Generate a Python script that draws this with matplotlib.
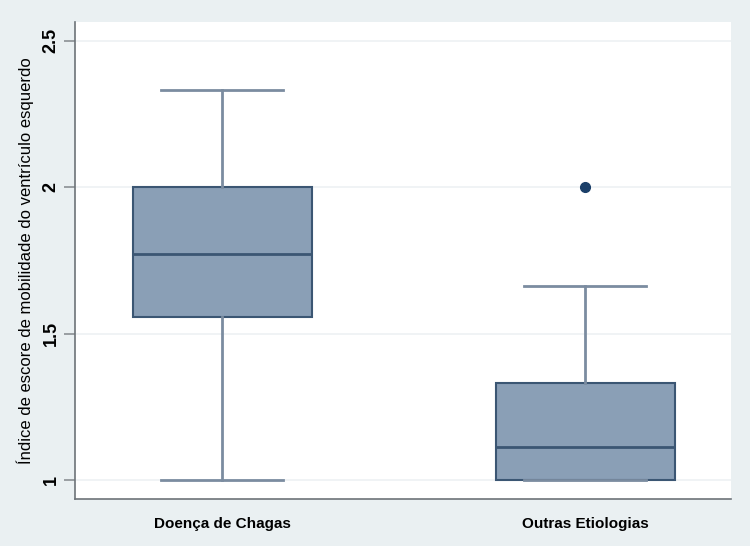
import matplotlib
matplotlib.use("Agg")
import matplotlib.pyplot as plt

# group labels and box statistics
groups = ["Doença de Chagas", "Outras Etiologias"]
whislo = [1.0, 1.0]
q1 = [1.556, 1.0]
med = [1.771, 1.113]
q3 = [2.0, 1.331]
whishi = [2.333, 1.664]
fliers = [[], [2.0]]

yticks = [1, 1.5, 2, 2.5]
ylabel = "Índice de escore de mobilidade do ventrículo esquerdo"

plt.rcParams['font.family'] = ['Liberation Sans', 'DejaVu Sans']

bg = "#eaf0f2"
fill = "#8a9fb6"
edge = "#3b5673"
whisk = "#7b8ca0"

stats = []
for i in range(len(groups)):
    stats.append(dict(label=groups[i], whislo=whislo[i], q1=q1[i], med=med[i],
                      q3=q3[i], whishi=whishi[i], fliers=fliers[i]))

fig = plt.figure(figsize=(7.5, 5.46), dpi=100, facecolor=bg)
ax = fig.add_axes([0.1, 0.086, 0.875, 0.874])
ax.set_facecolor("white")

ax.bxp(stats, positions=[1, 2], widths=0.493, capwidths=0.336, patch_artist=True,
       boxprops=dict(facecolor=fill, edgecolor=edge, linewidth=1.5),
       medianprops=dict(color=edge, linewidth=2),
       whiskerprops=dict(color=whisk, linewidth=2),
       capprops=dict(color=whisk, linewidth=2),
       flierprops=dict(marker="o", markerfacecolor="#1b3f69", markeredgecolor="#1b3f69", markersize=7))

ax.set_xlim(0.595, 2.402)
ax.set_ylim(0.935, 2.565)
ax.set_yticks(yticks)
ax.set_yticklabels(["1", "1.5", "2", "2.5"], rotation=90, va="center", fontsize=13, fontweight="bold")
ax.yaxis.grid(True, color="#edf1f3", linewidth=1.2)
ax.set_axisbelow(True)

ax.tick_params(axis="y", length=8, width=1.2, color="#8a8f94", pad=3)
ax.tick_params(axis="x", length=0, pad=13, labelsize=11)
for t in ax.get_xticklabels():
    t.set_fontweight("bold")

ax.spines["top"].set_visible(False)
ax.spines["right"].set_visible(False)
for s in ["left", "bottom"]:
    ax.spines[s].set_color("#6d7378")
    ax.spines[s].set_linewidth(1.2)

ax.set_ylabel(ylabel, fontsize=12, labelpad=6)

fig.savefig("out.png", dpi=100, facecolor=bg)
